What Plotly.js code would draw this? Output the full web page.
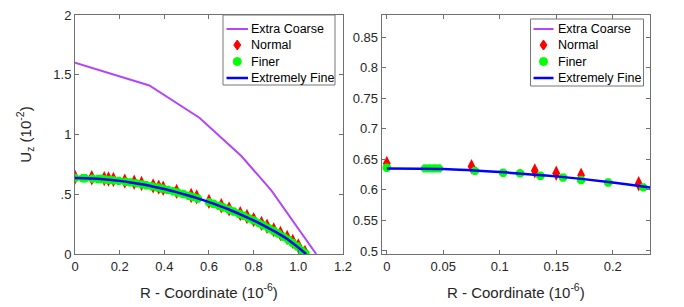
<!DOCTYPE html>
<html><head><meta charset="utf-8">
<script src="https://cdn.plot.ly/plotly-3.0.1.min.js"></script>
<style>html,body{margin:0;padding:0;background:#fff}#chart{width:684px;height:307px}</style>
</head><body><div id="chart"></div>
<script>
// Extra Coarse mesh
const coarseR = [0, 0.333, 0.557, 0.745, 0.88, 1.08];
const coarseU = [1.6, 1.41, 1.14, 0.82, 0.53, 0];
// Normal mesh
const normalR = [0, 0.075, 0.131, 0.150, 0.172, 0.223, 0.265, 0.298, 0.35, 0.375, 0.395, 0.455, 0.52, 0.545, 0.60, 0.655, 0.69, 0.74, 0.77, 0.80, 0.835, 0.86, 0.89, 0.92, 0.95, 0.975, 1.0, 1.03];
const normalU = [0.643, 0.638, 0.631, 0.627, 0.624, 0.610, 0.601, 0.590, 0.570, 0.560, 0.550, 0.524, 0.490, 0.478, 0.440, 0.404, 0.378, 0.338, 0.314, 0.288, 0.256, 0.232, 0.202, 0.172, 0.138, 0.106, 0.068, 0.012];
// Finer mesh
const finerR = [0, 0.034, 0.038, 0.042, 0.046, 0.078, 0.103, 0.118, 0.136, 0.156, 0.172, 0.196, 0.227, 0.25, 0.275, 0.30, 0.32, 0.345, 0.37, 0.39, 0.415, 0.44, 0.46, 0.485, 0.51, 0.53, 0.55, 0.60, 0.62, 0.645, 0.665, 0.69, 0.71, 0.735, 0.755, 0.78, 0.80, 0.825, 0.845, 0.87, 0.89, 0.91, 0.935, 0.955, 0.975, 0.995, 1.015, 1.032];
const finerU = [0.636, 0.635, 0.635, 0.635, 0.635, 0.631, 0.628, 0.627, 0.623, 0.620, 0.616, 0.612, 0.604, 0.599, 0.591, 0.583, 0.575, 0.566, 0.556, 0.548, 0.537, 0.525, 0.515, 0.502, 0.488, 0.477, 0.465, 0.434, 0.421, 0.403, 0.389, 0.371, 0.356, 0.336, 0.320, 0.298, 0.281, 0.258, 0.239, 0.214, 0.193, 0.172, 0.143, 0.119, 0.092, 0.064, 0.030, 0.004];
// Extremely Fine mesh
const xfineR = [0, 0.05, 0.1, 0.15, 0.2, 0.25, 0.3, 0.35, 0.4, 0.45, 0.5, 0.55, 0.6, 0.65, 0.7, 0.75, 0.8, 0.85, 0.9, 0.95, 1.0, 1.035];
const xfineU = [0.635, 0.634, 0.629, 0.622, 0.612, 0.599, 0.583, 0.564, 0.544, 0.520, 0.494, 0.465, 0.434, 0.400, 0.364, 0.324, 0.281, 0.234, 0.183, 0.126, 0.055, 0.0];

const names = ['Extra Coarse', 'Normal', 'Finer', 'Extremely Fine'];
const leftXTicks = [0, 0.2, 0.4, 0.6, 0.8, 1.0, 1.2];
const leftXText = ['0', '0.2', '0.4', '0.6', '0.8', '1.0', '1.2'];
const leftYTicks = [0, 0.5, 1, 1.5, 2];
const leftYText = ['0', '.5', '1', '1.5', '2'];
const rightXTicks = [0, 0.05, 0.1, 0.15, 0.2];
const rightXText = ['0', '0.05', '0.1', '0.15', '0.2'];
const rightYTicks = [0.5, 0.55, 0.6, 0.65, 0.7, 0.75, 0.8, 0.85];
const rightYText = ['0.5', '0.55', '0.6', '0.65', '0.7', '0.75', '0.8', '0.85'];

const purple = '#B347F7', red = '#FF0000', green = '#00FF00', blue = '#0000FF';

function traces(xa, ya) {
  return [
    {x: coarseR, y: coarseU, name: names[0], mode: 'lines', line: {color: purple, width: 2}, xaxis: xa, yaxis: ya},
    {x: normalR, y: normalU, name: names[1], mode: 'markers', marker: {symbol: 'diamond-tall', size: 11, color: red}, xaxis: xa, yaxis: ya},
    {x: finerR, y: finerU, name: names[2], mode: 'markers', marker: {symbol: 'asterisk-open', size: 7, color: green, line: {color: green, width: 3.5}}, xaxis: xa, yaxis: ya},
    {x: xfineR, y: xfineU, name: names[3], mode: 'lines', line: {color: blue, width: 2.5, shape: 'spline'}, xaxis: xa, yaxis: ya}
  ];
}
const data = traces('x', 'y').concat(traces('x2', 'y2'));

// ---- custom legends (layout only) ----
const ML = 75, MT = 15, PW = 575, PH = 239;
const P = x => (x - ML) / PW;
const Q = y => (MT + PH - y) / PH;
const shapes = [], annotations = [];
function legendBox(x0, y0, x1, y1, rows, sx0, sx1, tx) {
  shapes.push({type: 'rect', xref: 'paper', yref: 'paper', x0: P(x0), x1: P(x1), y0: Q(y1), y1: Q(y0),
    fillcolor: '#fff', line: {color: '#777', width: 1}, layer: 'above'});
  const cx = (sx0 + sx1) / 2;
  // Extra Coarse line
  shapes.push({type: 'line', xref: 'paper', yref: 'paper', x0: P(sx0), x1: P(sx1), y0: Q(rows[0]), y1: Q(rows[0]),
    line: {color: purple, width: 2}, layer: 'above'});
  // Normal diamond
  const r = rows[1];
  shapes.push({type: 'path', xref: 'paper', yref: 'paper', layer: 'above', fillcolor: red, line: {color: red, width: 1},
    path: `M ${P(cx)},${Q(r - 5)} L ${P(cx + 3.5)},${Q(r)} L ${P(cx)},${Q(r + 5)} L ${P(cx - 3.5)},${Q(r)} Z`});
  // Finer blob
  const g = rows[2];
  shapes.push({type: 'circle', xref: 'paper', yref: 'paper', layer: 'above', fillcolor: green, line: {color: green, width: 1},
    x0: P(cx - 4), x1: P(cx + 4), y0: Q(g + 4), y1: Q(g - 4)});
  // Extremely fine line
  shapes.push({type: 'line', xref: 'paper', yref: 'paper', x0: P(sx0), x1: P(sx1), y0: Q(rows[3]), y1: Q(rows[3]),
    line: {color: blue, width: 2.5}, layer: 'above'});
  names.forEach((n, i) => annotations.push({xref: 'paper', yref: 'paper', x: P(tx), y: Q(rows[i]), text: n,
    showarrow: false, xanchor: 'left', yanchor: 'middle', font: {family: 'Liberation Sans, Arial, sans-serif', size: 12.5, color: '#000'}}));
}
legendBox(223, 15, 335, 85, [29, 45, 61.5, 78], 226.5, 248, 249);
legendBox(530.5, 19, 643.5, 86, [29, 45, 61.5, 78], 533.5, 553.5, 556);

const axCol = '#707070';
const tickFont = {family: 'Liberation Sans, Arial, sans-serif', size: 13, color: '#262626'};
const titleFont = {family: 'Liberation Sans, Arial, sans-serif', size: 15, color: '#262626'};
function ax(o) {
  return Object.assign({
    showline: true, linecolor: axCol, linewidth: 1, mirror: 'ticks', ticks: 'inside', ticklen: 4,
    tickcolor: axCol, showgrid: false, zeroline: false, tickfont: tickFont, tickmode: 'array'
  }, o);
}

const layout = {
  width: 684, height: 307,
  margin: {l: ML, r: 34, t: MT, b: 53},
  paper_bgcolor: '#fff', plot_bgcolor: '#fff',
  showlegend: false,
  xaxis: ax({domain: [0, 0.466], range: [0, 1.2], tickvals: leftXTicks, ticktext: leftXText,
    title: {text: 'R - Coordinate (10<sup>-6</sup>)', font: titleFont, standoff: 14}}),
  yaxis: ax({domain: [0, 1], range: [0, 2], tickvals: leftYTicks, ticktext: leftYText,
    title: {text: 'U<sub>z</sub> (10<sup>-2</sup>)', font: titleFont, standoff: 18}}),
  xaxis2: ax({domain: [0.5334, 1], anchor: 'y2', range: [-0.0045, 0.233], tickvals: rightXTicks, ticktext: rightXText,
    title: {text: 'R - Coordinate (10<sup>-6</sup>)', font: titleFont, standoff: 14}}),
  yaxis2: ax({domain: [0, 1], anchor: 'x2', range: [0.495, 0.886], tickvals: rightYTicks, ticktext: rightYText}),
  shapes: shapes,
  annotations: annotations
};
Plotly.newPlot('chart', data, layout, {displayModeBar: false, staticPlot: true});
</script></body></html>
